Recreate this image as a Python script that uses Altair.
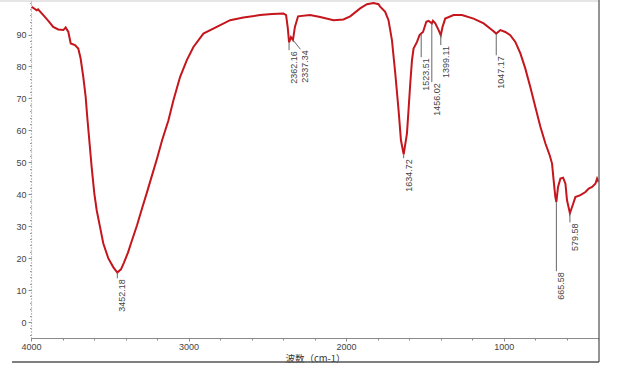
import altair as alt
import pandas as pd

# Spectrum (wavenumber cm-1, transmittance %)
wavenumber = [3996, 3964, 3955, 3922, 3890, 3859, 3827, 3795, 3780, 3763, 3748, 3721, 3700,
              3685, 3668, 3653, 3643, 3630, 3615, 3598, 3583, 3562, 3541, 3509, 3478, 3452.18,
              3429, 3410, 3384, 3359, 3327, 3295, 3264, 3232, 3200, 3168, 3128, 3096, 3054,
              3011, 2969, 2906, 2821, 2736, 2652, 2546, 2470, 2398, 2381, 2370, 2362.16, 2350,
              2337.34, 2325, 2305, 2229, 2165, 2080, 2017, 1974, 1911, 1868, 1826, 1794, 1784,
              1752, 1731, 1709, 1688, 1667, 1652, 1634.72, 1614, 1604, 1593, 1582, 1572, 1550,
              1534, 1523.51, 1512, 1491, 1477, 1456.02, 1449, 1434, 1413, 1399.11, 1388, 1371,
              1318, 1265, 1191, 1127, 1074, 1047.17, 1021, 990, 958, 926, 894, 863, 831, 799,
              767, 735, 708, 693, 683, 672, 665.58, 655, 640, 623, 608, 598, 579.58, 566, 545,
              513, 481, 460, 439, 418, 407, 397]
transmittance = [98.7, 97.6, 97.9, 96.1, 94.3, 92.4, 91.6, 91.4, 92.2, 90.8, 87.2, 86.7, 85.6,
                 82.5, 76.7, 70.5, 64.2, 56.9, 48.5, 40.2, 35.0, 29.8, 24.6, 19.9, 17.2, 15.5,
                 16.5, 18.6, 21.8, 25.6, 30.3, 35.6, 40.6, 45.9, 51.2, 56.9, 63.1, 69.4, 76.7,
                 82.0, 86.1, 90.3, 92.4, 94.5, 95.3, 96.1, 96.4, 96.6, 96.1, 91.9, 87.5, 89.2,
                 88.3, 92.4, 95.7, 96.1, 95.5, 94.5, 94.7, 95.7, 98.2, 99.5, 99.9, 99.5, 98.7,
                 97.1, 94.5, 88.2, 77.8, 66.3, 56.9, 52.5, 59.0, 66.3, 74.6, 82.0, 85.6, 87.7,
                 89.8, 90.3, 90.8, 94.0, 94.3, 93.5, 94.3, 93.5, 91.4, 89.8, 92.4, 95.0,
                 96.1, 96.1, 95.0, 93.5, 91.4, 90.3, 91.4, 90.8, 89.8, 87.7, 84.1, 79.4, 73.6, 67.3,
                 61.1, 55.9, 52.2, 49.6, 44.4, 39.1, 37.6, 42.3, 44.9, 45.2, 43.3, 38.1, 34.1, 36.0, 39.1,
                 39.7, 40.7, 41.8, 42.3, 43.3, 44.9, 43.8]

# Peak annotations
peak_text = ["3452.18", "2362.16", "2337.34", "1634.72", "1523.51", "1456.02", "1399.11",
             "1047.17", "665.58", "579.58"]
peak_wn = [3452.18, 2362.16, 2337.34, 1634.72, 1523.51, 1456.02, 1399.11, 1047.17, 665.58, 579.58]
peak_t = [15.5, 87.5, 88.3, 52.5, 90.3, 93.5, 89.8, 90.3, 37.6, 34.1]
label_wn = [3452.18, 2362.16, 2290, 1634.72, 1523.51, 1456.02, 1399.11, 1047.17, 665.58, 579.58]
label_t = [13.7, 85.1, 85.4, 51.3, 82.9, 75.1, 86.7, 83.5, 15.9, 31.2]

x_major = [4000, 3000, 2000, 1000]
x_minor = list(range(4000, 399, -200))
y_major = list(range(0, 91, 10))
y_minor = list(range(-4, 101, 2))

spec = pd.DataFrame({"wn": wavenumber, "t": transmittance})
peaks = pd.DataFrame({"wn": peak_wn, "t": peak_t, "lwn": label_wn, "lt": label_t, "txt": peak_text})

xscale = alt.Scale(domain=[4000, 395], nice=False, zero=False)
yscale = alt.Scale(domain=[-5, 100.5], nice=False, zero=False)

FONT = "Liberation Sans"

xaxis = alt.Axis(
    values=x_major, format="d", grid=False, orient="bottom",
    domainColor="#8a8a8a", tickColor="#8a8a8a", tickSize=3,
    labelFont=FONT, labelFontSize=9, labelColor="#444444", labelPadding=1,
    labelOverlap=False, labelFlush=False,
    title="波数（cm-1）", titleFont="Noto Sans CJK SC", titleFontSize=9.5,
    titleFontWeight="normal", titleColor="#333333", titlePadding=2,
)
yaxis = alt.Axis(
    values=y_major, grid=False, orient="left",
    domainColor="#888888", domainDash=[1, 2], domainWidth=1.2,
    tickColor="#8a8a8a", tickSize=3,
    labelFont=FONT, labelFontSize=9, labelColor="#444444", labelPadding=2,
    labelOverlap=False, labelFlush=False,
    title=None,
)
xaxis_minor = alt.Axis(values=x_minor, grid=False, orient="bottom", labels=False, domain=False,
                       tickColor="#8a8a8a", tickSize=2, title=None)
yaxis_minor = alt.Axis(values=y_minor, grid=False, orient="left", labels=False, domain=False,
                       tickColor="#9a9a9a", tickSize=1.5, title=None)

line = alt.Chart(spec).mark_line(color="#c4161c", strokeWidth=2, clip=True).encode(
    x=alt.X("wn:Q", scale=xscale, axis=xaxis),
    y=alt.Y("t:Q", scale=yscale, axis=yaxis),
)

minor = alt.Chart(spec).mark_point(opacity=0).encode(
    x=alt.X("wn:Q", scale=xscale, axis=xaxis_minor),
    y=alt.Y("t:Q", scale=yscale, axis=yaxis_minor),
)

leaders = alt.Chart(peaks).mark_rule(color="#666666", strokeWidth=1).encode(
    x=alt.X("wn:Q", scale=xscale, axis=None),
    y=alt.Y("t:Q", scale=yscale, axis=None),
    x2="lwn:Q",
    y2="lt:Q",
)

labels = alt.Chart(peaks).mark_text(
    angle=270, align="right", baseline="top", dy=1, dx=-1,
    font=FONT, fontSize=9, color="#444444",
).encode(
    x=alt.X("lwn:Q", scale=xscale, axis=None),
    y=alt.Y("lt:Q", scale=yscale, axis=None),
    text="txt:N",
)

one = pd.DataFrame({"a": [0]})
frame_right = alt.Chart(one).mark_rule(color="#707070", strokeWidth=1.5).encode(
    x=alt.value(568), y=alt.value(-1), y2=alt.value(361))
frame_bottom = alt.Chart(one).mark_rule(color="#555555", strokeWidth=1.5).encode(
    x=alt.value(-19), x2=alt.value(568), y=alt.value(361))
frame_top = alt.Chart(one).mark_rule(color="#cccccc", strokeWidth=1).encode(
    x=alt.value(-31), x2=alt.value(568), y=alt.value(0))

chart = alt.layer(frame_top, minor, line, leaders, labels, frame_right, frame_bottom).resolve_axis(
    x="independent", y="independent"
).properties(
    width=568, height=337,
    autosize=alt.AutoSizeParams(type="none"),
    padding={"left": 31, "top": 1, "right": 41, "bottom": 34},
    background="white",
).configure_view(stroke=None)

chart.save("out.html", embed_options={"renderer": "svg", "actions": False})
